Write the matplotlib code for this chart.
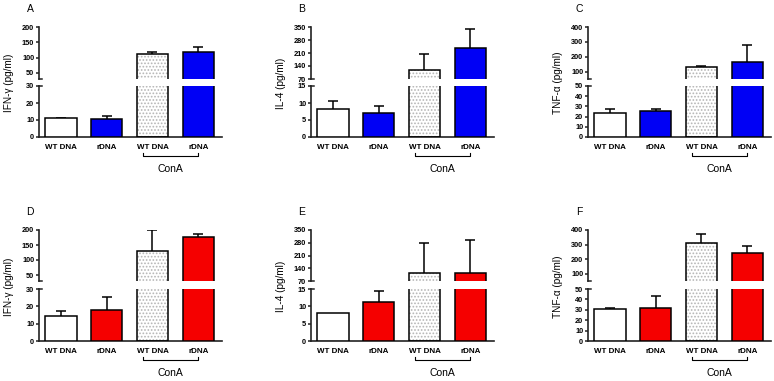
import matplotlib
matplotlib.use("Agg")
import matplotlib.pyplot as plt

plt.rcParams['font.family'] = ['Liberation Sans', 'DejaVu Sans']
plt.rcParams['hatch.linewidth'] = 0.8

categories = ["WT DNA", "rDNA", "WT DNA", "rDNA"]
group_label = "ConA"

# panel data: means and upper error bar tops
A_mean = [10.9, 10.5, 113, 117]
A_top = [11.2, 12.6, 119, 136]
B_mean = [8.2, 7.0, 120, 239]
B_top = [10.6, 9.0, 206, 339]
C_mean = [23.4, 25.7, 133, 163]
C_top = [27.0, 27.3, 137, 277]
D_mean = [14.7, 18.0, 129, 177]
D_top = [17.4, 25.4, 199, 188]
E_mean = [8.2, 11.3, 112, 116]
E_top = [8.2, 14.3, 281, 293]
F_mean = [30.3, 31.6, 308, 245]
F_top = [31.3, 42.9, 374, 287]

ifn_lower = [0, 10, 20, 30]
ifn_upper = [50, 100, 150, 200]
il4_lower = [0, 5, 10, 15]
il4_upper = [70, 140, 210, 280, 350]
tnf_lower = [0, 10, 20, 30, 40, 50]
tnf_upper = [100, 200, 300, 400]

BLUE = '#0000f5'
RED = '#f50000'

W, H = 774, 381
fig = plt.figure(figsize=(W / 100, H / 100), dpi=100)


def fx(px):
    return px / W


def fy(px):
    return 1 - px / H


panels = [
    ("A", A_mean, A_top, "IFN-\u03b3 (pg/ml)", (0, 30), ifn_lower, (30, 200), ifn_upper, BLUE, 39, 0),
    ("B", B_mean, B_top, "IL-4 (pg/ml)", (0, 15), il4_lower, (70, 350), il4_upper, BLUE, 311, 0),
    ("C", C_mean, C_top, "TNF-\u03b1 (pg/ml)", (0, 50), tnf_lower, (50, 400), tnf_upper, BLUE, 588, 0),
    ("D", D_mean, D_top, "IFN-\u03b3 (pg/ml)", (0, 30), ifn_lower, (30, 200), ifn_upper, RED, 39, 1),
    ("E", E_mean, E_top, "IL-4 (pg/ml)", (0, 15), il4_lower, (70, 350), il4_upper, RED, 311, 1),
    ("F", F_mean, F_top, "TNF-\u03b1 (pg/ml)", (0, 50), tnf_lower, (50, 400), tnf_upper, RED, 588, 1),
]

rows = [
    # upper_top, upper_bottom, lower_top, lower_bottom
    (27, 79, 86, 137),
    (230, 281, 289, 341),
]

axw = 183
xlim = (-0.48, 3.52)
bw = 0.68
cap = 0.11
x = list(range(len(categories)))

for letter, mean, top, ylab, lrng, lticks, urng, uticks, col, left, r in panels:
    ut, ub, lt, lb = rows[r]
    ax_u = fig.add_axes([fx(left), fy(ub), fx(axw), (ub - ut) / H])
    ax_l = fig.add_axes([fx(left), fy(lb), fx(axw), (lb - lt) / H])
    for ax, rng, ticks in ((ax_u, urng, uticks), (ax_l, lrng, lticks)):
        ax.set_xlim(*xlim)
        ax.set_ylim(*rng)
        ax.set_yticks(ticks)
        for sp in ('top', 'right'):
            ax.spines[sp].set_visible(False)
        ax.spines['left'].set_linewidth(1.2)
        ax.spines['left'].set_color('#222222')
        ax.tick_params(axis='y', length=2.5, width=1.1, pad=1, labelsize=5.3, color='#222222')
        for t in ax.get_yticklabels():
            t.set_fontweight('bold')
        ax.patch.set_visible(False)
        fills = ['white', col, 'white', col]
        for i in range(4):
            # error bar (upper only), drawn first so bar edge covers its base
            if top[i] > mean[i]:
                ax.vlines(x[i], mean[i], top[i], color='black', lw=1.1, zorder=1)
                ax.hlines(top[i], x[i] - cap, x[i] + cap, color='black', lw=1.1, zorder=1)
            if i == 2:
                ax.bar(x[i], mean[i], width=bw, color='white', edgecolor='#b5b5b5',
                       linewidth=0, hatch='.....', zorder=2)
                ax.bar(x[i], mean[i], width=bw, fill=False, edgecolor='black',
                       linewidth=1.1, zorder=3)
            else:
                ax.bar(x[i], mean[i], width=bw, color=fills[i], edgecolor='black',
                       linewidth=1.1, zorder=3)
    ax_u.spines['bottom'].set_visible(False)
    ax_u.set_xticks([])
    # break caps
    ax_u.plot([xlim[0], xlim[0] + 0.06], [urng[0], urng[0]], color='#222222', lw=1.1, clip_on=False)
    ax_l.plot([xlim[0], xlim[0] + 0.06], [lrng[1], lrng[1]], color='#222222', lw=1.1, clip_on=False)
    ax_l.spines['bottom'].set_linewidth(1.2)
    ax_l.spines['bottom'].set_color('#222222')
    ax_l.set_xticks(x)
    ax_l.set_xticklabels(categories, fontsize=5.8, fontweight='bold')
    ax_l.tick_params(axis='x', length=0, pad=5)
    # bracket
    tr = ax_l.get_xaxis_transform()
    yb = -19 / (lb - lt)
    ax_l.plot([1.8, 1.8, 3.0, 3.0], [yb + 0.05, yb, yb, yb + 0.05], color='black', lw=0.8,
              transform=tr, clip_on=False)
    ax_l.text(2.4, -32 / (lb - lt), group_label, transform=tr, ha='center', va='center',
              fontsize=7.5)
    # y label
    fig.text(fx(left - 30), fy((ut + lb) / 2 + 1), ylab, rotation=90, ha='center', va='center',
             fontsize=7.2)
    # panel letter
    fig.text(fx(left - 9), fy(ut - 18), letter, ha='center', va='center', fontsize=7.5)

fig.savefig("out.png", dpi=100)
